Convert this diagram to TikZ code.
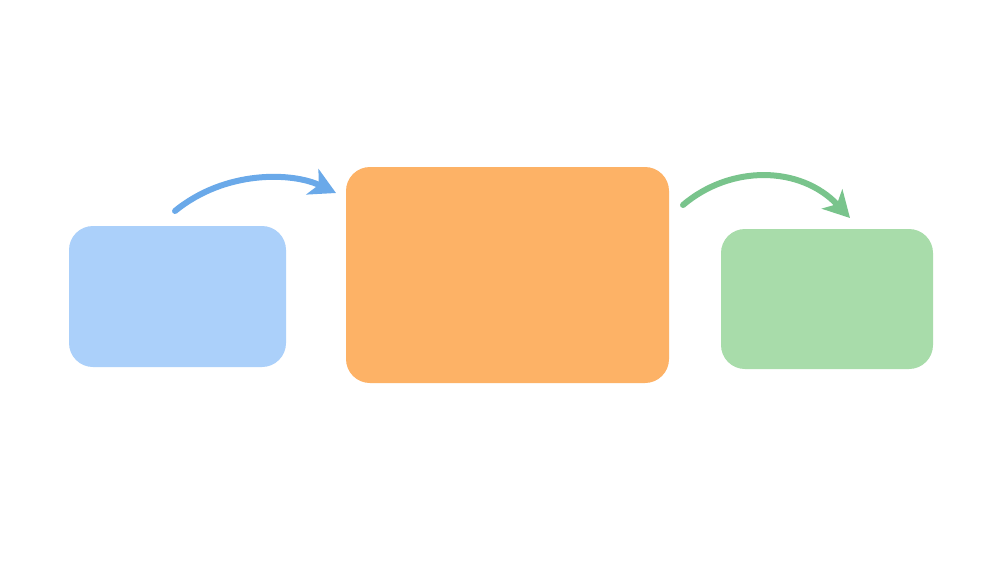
\documentclass[tikz,border=0pt]{standalone}
\usetikzlibrary{arrows.meta}
\definecolor{boxblue}{HTML}{ABD0FA}
\definecolor{boxorange}{HTML}{FDB266}
\definecolor{boxgreen}{HTML}{A8DCAA}
\definecolor{arrblue}{HTML}{6AA9E9}
\definecolor{arrgreen}{HTML}{79C48C}
\begin{document}
\begin{tikzpicture}[x=1pt,y=-1pt,
  block/.style={rounded corners=24pt, inner sep=0pt, draw=none},
  flow/.style={line width=6pt, line cap=round, -{Stealth[length=26pt,width=28pt,inset=7pt]}}]
\fill[white] (0,0) rectangle (1000,563);
\useasboundingbox (0,0) rectangle (1000,563);
\node[block, fill=boxblue, minimum width=217pt, minimum height=141pt] (b1) at (177.5,296.5) {};
\node[block, fill=boxorange, minimum width=323pt, minimum height=216pt] (b2) at (507.5,275) {};
\node[block, fill=boxgreen, minimum width=212pt, minimum height=140pt] (b3) at (827,299) {};
\coordinate (s1) at (175,211);
\coordinate (e1) at (336,193);
\coordinate (s2) at (683,205);
\coordinate (e2) at (850,218);
\draw[flow, draw=arrblue] (s1) .. controls (225,170) and (292,172) .. (e1);
\draw[flow, draw=arrgreen] (s2) .. controls (730,165) and (800,165) .. (e2);
\end{tikzpicture}
\end{document}
